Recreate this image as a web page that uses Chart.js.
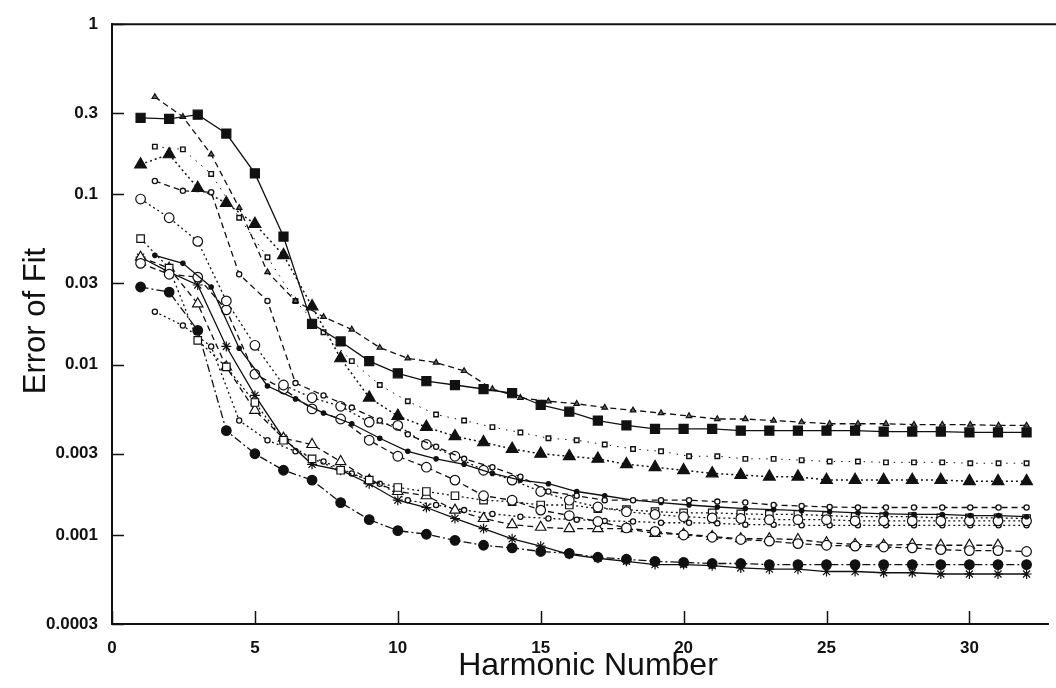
<!DOCTYPE html>
<html>
<head>
<meta charset="utf-8">
<script src="https://cdn.jsdelivr.net/npm/chart.js@4.4.1/dist/chart.umd.min.js"></script>
<style>
  html, body { margin: 0; padding: 0; background: #fff; }
  #wrap { width: 1056px; height: 688px; position: relative; }
</style>
</head>
<body>
<div id="wrap"><canvas id="c" width="1056" height="688"></canvas></div>
<script>
// ---------- data ----------
const xInt = [1,2,3,4,5,6,7,8,9,10,11,12,13,14,15,16,17,18,19,20,21,22,23,24,25,26,27,28,29,30,31,32];
const xShift = [1.5,2.48,3.47,4.45,5.44,6.42,7.40,8.39,9.37,10.35,11.34,12.32,13.31,14.29,15.27,16.26,17.24,18.23,19.21,20.19,21.18,22.16,23.15,24.13,25.11,26.10,27.08,28.06,29.05,30.03,31.02,32.00];

const xTicks = [0,5,10,15,20,25,30];
const yTicks = [0.0003,0.001,0.003,0.01,0.03,0.1,0.3,1];
const yTickLabels = ['0.0003','0.001','0.003','0.01','0.03','0.1','0.3','1'];

const sqFilled = [0.282,0.278,0.294,0.228,0.133,0.0566,0.0174,0.0137,0.0105,0.0089,0.0080,0.0076,0.0072,0.0068,0.0058,0.0053,0.0047,0.0044,0.0042,0.0042,0.0042,0.0041,0.0041,0.0041,0.0041,0.0041,0.00405,0.00405,0.00405,0.0040,0.0040,0.0040];
const triSmall = [0.374,0.286,0.172,0.0835,0.035,0.0237,0.0191,0.0161,0.0126,0.0109,0.0103,0.0092,0.0072,0.0064,0.0061,0.0059,0.0056,0.0054,0.0052,0.0050,0.0048,0.0048,0.0047,0.0046,0.0045,0.0045,0.0045,0.00445,0.00445,0.00445,0.0044,0.0044];
const sqSmall = [0.191,0.184,0.132,0.073,0.0428,0.0237,0.0155,0.0105,0.0076,0.0061,0.0051,0.0047,0.0043,0.0040,0.0037,0.0036,0.0034,0.0032,0.0031,0.0029,0.0029,0.0028,0.0028,0.00275,0.0027,0.0027,0.00267,0.00267,0.00267,0.00264,0.00264,0.00264];
const triFilled = [0.150,0.172,0.109,0.089,0.067,0.044,0.022,0.0109,0.0064,0.0050,0.0043,0.0038,0.0035,0.0032,0.0030,0.0029,0.0028,0.0026,0.0025,0.0024,0.0023,0.00225,0.0022,0.0022,0.0021,0.0021,0.0021,0.0021,0.0021,0.00207,0.00207,0.00207];
const circSmallA = [0.120,0.105,0.103,0.034,0.0237,0.0078,0.0066,0.0056,0.0047,0.0039,0.0033,0.0028,0.0025,0.0022,0.0018,0.0017,0.0016,0.0016,0.0016,0.0016,0.00157,0.00155,0.0015,0.00148,0.00146,0.00145,0.00145,0.00145,0.00145,0.00145,0.00145,0.00145];
const dotSolid = [0.0439,0.0394,0.0286,0.0125,0.0075,0.0063,0.0052,0.0045,0.0037,0.0031,0.0028,0.0026,0.0023,0.0021,0.0020,0.0018,0.0017,0.0016,0.00155,0.0015,0.00146,0.00143,0.00141,0.00139,0.00137,0.00135,0.00133,0.00132,0.00132,0.0013,0.0013,0.00128];
const circDotted = [0.094,0.073,0.053,0.0237,0.013,0.0076,0.0064,0.0057,0.0046,0.0044,0.0034,0.0029,0.0024,0.0021,0.0018,0.0016,0.00146,0.00137,0.00132,0.00128,0.00126,0.00125,0.00123,0.00123,0.00123,0.00121,0.00121,0.00121,0.00121,0.00121,0.00121,0.00121];
const circDashed = [0.0394,0.034,0.0327,0.021,0.0088,0.0072,0.0055,0.0048,0.0036,0.0029,0.0025,0.0021,0.0017,0.0016,0.0014,0.0013,0.0012,0.0011,0.00105,0.0010,0.00097,0.00094,0.00092,0.00089,0.00087,0.00086,0.00085,0.00084,0.00082,0.00081,0.00081,0.0008];
const sqOpen = [0.0551,0.0369,0.0139,0.0097,0.0060,0.0036,0.0028,0.0024,0.0021,0.0019,0.0018,0.0017,0.0016,0.00157,0.0015,0.0015,0.00143,0.00141,0.00137,0.00135,0.00135,0.00133,0.00132,0.00132,0.0013,0.00128,0.00128,0.00128,0.00126,0.00126,0.00126,0.00125];
const triOpen = [0.0428,0.0369,0.0228,0.0097,0.0054,0.0037,0.0034,0.0027,0.0021,0.0018,0.0017,0.0014,0.00125,0.00115,0.00111,0.00109,0.00109,0.00109,0.00102,0.00101,0.00098,0.00095,0.00095,0.00094,0.0009,0.00088,0.00087,0.00088,0.00087,0.00087,0.00087];
const asterisk = [0.0428,0.035,0.0294,0.0128,0.0066,0.0037,0.0026,0.0024,0.0020,0.0016,0.00145,0.00125,0.00109,0.00095,0.00086,0.00077,0.00073,0.0007,0.00067,0.00067,0.00066,0.00064,0.00063,0.00063,0.00061,0.00061,0.0006,0.0006,0.00059,0.00059,0.00059,0.00059];
const circFilled = [0.0286,0.0267,0.0159,0.0041,0.0030,0.0024,0.0021,0.00155,0.00123,0.00106,0.00101,0.00093,0.00087,0.00084,0.0008,0.00078,0.00074,0.00072,0.0007,0.00069,0.00068,0.00068,0.00067,0.00067,0.00067,0.00067,0.00067,0.00067,0.00067,0.00067,0.00067,0.00067];
const circSmallB = [0.0205,0.0170,0.0128,0.0047,0.0036,0.0031,0.0027,0.0023,0.0020,0.0016,0.0015,0.0014,0.00133,0.00128,0.00125,0.00123,0.00121,0.0012,0.00118,0.00118,0.00117,0.00115,0.00115,0.00114,0.00114,0.00114,0.00114,0.00114,0.00114,0.00114,0.00114,0.00114];

// ---------- styles ----------
const INK = '#111';
const SOLID = [];
const DASH = [6, 4];
const DOT = [2, 3];
const SPARSE = [1.5, 6];
const DASHDOT = [8, 3, 2, 3];
const FONT = '"Liberation Sans", Arial, Helvetica, sans-serif';

function series(xs, vals, opt) {
  return Object.assign({
    data: vals.map((v, i) => ({ x: xs[i], y: v })),
    borderColor: INK,
    borderWidth: 1.3,
    pointBorderColor: INK,
    pointBorderWidth: 1.2,
    pointBackgroundColor: INK,
    tension: 0,
    fill: false
  }, opt);
}

const datasets = [
  series(xInt,   sqFilled,   { borderDash: SOLID, pointStyle: 'rect', pointRadius: 6.4 }),
  series(xShift, triSmall,   { borderDash: DASH, pointStyle: 'triangle', pointRadius: 3.2, pointBackgroundColor: '#666' }),
  series(xShift, sqSmall,    { borderDash: SPARSE, borderWidth: 1, pointStyle: 'rect', pointRadius: 3.2, pointBackgroundColor: '#fff', pointBorderWidth: 1.4 }),
  series(xInt,   triFilled,  { borderDash: DOT, borderWidth: 1.5, pointStyle: 'triangle', pointRadius: 6.8 }),
  series(xShift, circSmallA, { borderDash: DASH, pointStyle: 'circle', pointRadius: 2.6, pointBackgroundColor: '#fff', pointBorderWidth: 1.3 }),
  series(xShift, dotSolid,   { borderDash: SOLID, pointStyle: 'circle', pointRadius: 2.2 }),
  series(xInt,   circDotted, { borderDash: DOT, pointStyle: 'circle', pointRadius: 4.8, pointBackgroundColor: '#fff' }),
  series(xInt,   circDashed, { borderDash: DASH, pointStyle: 'circle', pointRadius: 4.8, pointBackgroundColor: '#fff' }),
  series(xInt,   sqOpen,     { borderDash: DOT, pointStyle: 'rect', pointRadius: 5.3, pointBackgroundColor: '#fff' }),
  series(xInt,   triOpen,    { borderDash: DASH, pointStyle: 'triangle', pointRadius: 6, pointBackgroundColor: '#fff' }),
  series(xInt,   asterisk,   { borderDash: SOLID, pointStyle: 'star', pointRadius: 5 }),
  series(xInt,   circFilled, { borderDash: DASHDOT, pointStyle: 'circle', pointRadius: 4.8 }),
  series(xShift, circSmallB, { borderDash: DOT, pointStyle: 'circle', pointRadius: 2.6, pointBackgroundColor: '#fff', pointBorderWidth: 1.3 })
];

// ---------- plugin: inward ticks, top frame line, axis titles ----------
const frame = {
  id: 'frame',
  afterDatasetsDraw(chart) {
    const { ctx, chartArea: a, scales: { x, y } } = chart;
    ctx.save();
    ctx.strokeStyle = INK;
    ctx.lineWidth = 1.5;
    ctx.beginPath();
    yTicks.forEach(v => {
      const py = Math.round(y.getPixelForValue(v)) + 0.5;
      ctx.moveTo(a.left, py); ctx.lineTo(a.left + 12, py);
    });
    xTicks.forEach(v => {
      const px = Math.round(x.getPixelForValue(v)) + 0.5;
      ctx.moveTo(px, a.bottom); ctx.lineTo(px, a.bottom - 13);
    });
    ctx.stroke();
    ctx.lineWidth = 2;
    ctx.beginPath();
    ctx.moveTo(a.left - 1, a.top); ctx.lineTo(chart.width, a.top);
    ctx.stroke();
    // axis titles
    ctx.fillStyle = INK;
    ctx.font = '32px ' + FONT;
    ctx.textAlign = 'center';
    ctx.textBaseline = 'middle';
    ctx.fillText('Harmonic Number', 588, 666);
    ctx.font = '31px ' + FONT;
    ctx.translate(36, 321);
    ctx.rotate(-Math.PI / 2);
    ctx.fillText('Error of Fit', 0, 0);
    ctx.restore();
  }
};

new Chart(document.getElementById('c'), {
  type: 'line',
  data: { datasets },
  options: {
    responsive: false,
    animation: false,
    devicePixelRatio: 1,
    layout: { padding: { top: 17, right: 0, left: 0, bottom: 0 } },
    plugins: { legend: { display: false }, tooltip: { enabled: false } },
    scales: {
      x: {
        type: 'linear',
        min: 0,
        max: 32.75,
        afterBuildTicks: s => { s.ticks = xTicks.map(v => ({ value: v })); },
        afterFit: s => { s.height = 64; },
        grid: { display: false, drawTicks: false },
        border: { display: true, color: INK, width: 2 },
        ticks: {
          autoSkip: false, maxRotation: 0, padding: 14, color: INK,
          font: { family: FONT, size: 17, weight: 'bold' },
          callback: v => String(v)
        }
      },
      y: {
        type: 'logarithmic',
        min: 0.0003,
        max: 1,
        afterBuildTicks: s => { s.ticks = yTicks.map(v => ({ value: v })); },
        afterFit: s => { s.width = 112; },
        grid: { display: false, drawTicks: false },
        border: { display: true, color: INK, width: 2 },
        ticks: {
          autoSkip: false, padding: 14, color: INK,
          font: { family: FONT, size: 17, weight: 'bold' },
          callback: (v, i) => yTickLabels[i]
        }
      }
    }
  },
  plugins: [frame]
});
</script>
</body>
</html>
